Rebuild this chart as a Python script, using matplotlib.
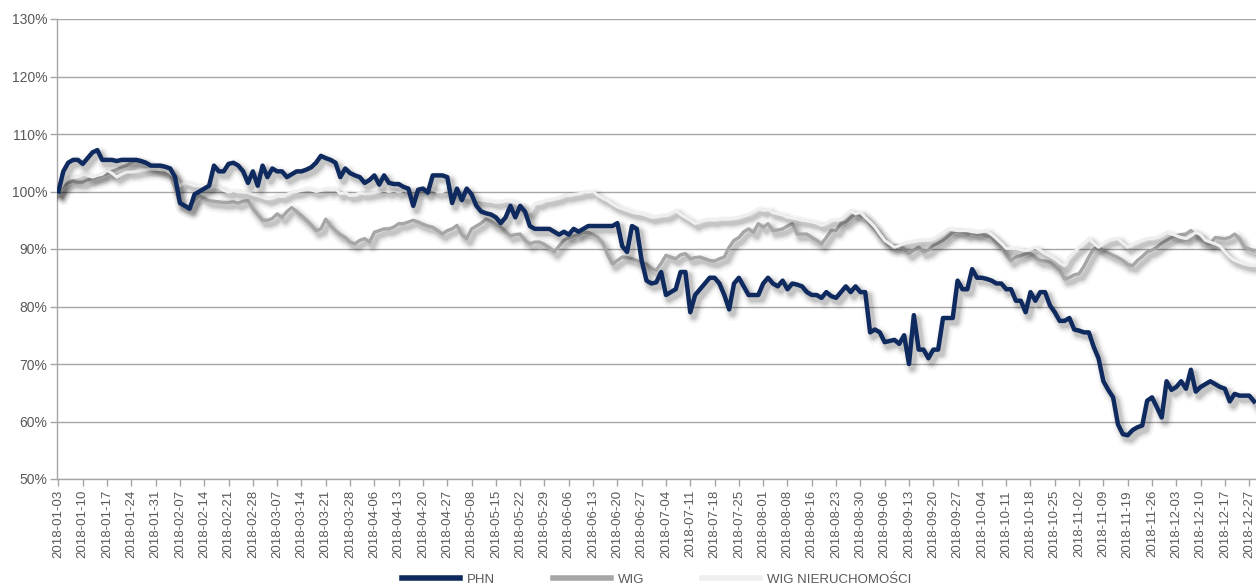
import matplotlib
matplotlib.use("Agg")
import matplotlib.pyplot as plt
import matplotlib.patheffects as pe
from matplotlib.ticker import FuncFormatter

# values in % of 2018-01-03, one per trading day, grouped by week (5 sessions per tick)
phn = [100.0, 103.5, 105.0, 105.5, 105.5,
       104.8, 105.8, 106.8, 107.2, 105.5,
       105.5, 105.5, 105.3, 105.5, 105.5,
       105.5, 105.5, 105.3, 105.0, 104.5,
       104.5, 104.5, 104.3, 104.0, 102.5,
       98.0, 97.5, 97.0, 99.5, 100.0,
       100.5, 101.0, 104.5, 103.5, 103.5,
       104.8, 105.0, 104.5, 103.5, 101.5,
       103.5, 101.0, 104.5, 102.5, 104.0,
       103.5, 103.5, 102.5, 103.0, 103.5,
       103.5, 103.8, 104.2, 105.0, 106.2,
       105.8, 105.5, 105.0, 102.5, 104.0,
       103.2, 102.8, 102.5, 101.5, 102.0,
       102.8, 101.2, 102.8, 101.5, 101.3,
       101.3, 100.8, 100.5, 97.5, 100.3,
       100.5, 99.8, 102.8, 102.8, 102.8,
       102.5, 98.0, 100.5, 98.5, 100.5,
       99.5, 97.5, 96.5, 96.2, 96.0,
       95.5, 94.5, 95.5, 97.5, 95.5,
       97.5, 96.5, 94.0, 93.5, 93.5,
       93.5, 93.5, 93.0, 92.5, 93.0,
       92.5, 93.5, 93.0, 93.5, 94.0,
       94.0, 94.0, 94.0, 94.0, 94.0,
       94.5, 90.5, 89.5, 94.0, 93.5,
       88.0, 84.5, 84.0, 84.2, 86.0,
       82.0, 82.5, 83.0, 86.0, 86.0,
       79.0, 82.0, 83.0, 84.0, 85.0,
       85.0, 84.0, 82.0, 79.5, 84.0,
       85.0, 83.5, 82.0, 82.0, 82.0,
       84.0, 85.0, 84.0, 83.5, 84.5,
       83.0, 84.0, 83.8, 83.5, 82.5,
       82.0, 82.0, 81.5, 82.5, 81.8,
       81.5, 82.5, 83.5, 82.5, 83.5,
       82.5, 82.5, 75.5, 76.0, 75.5,
       73.8, 74.0, 74.2, 73.5, 75.0,
       70.0, 78.5, 72.5, 72.5, 71.0,
       72.5, 72.5, 78.0, 78.0, 78.0,
       84.5, 83.0, 83.0, 86.5, 85.0,
       85.0, 84.8, 84.5, 84.0, 84.0,
       83.0, 83.0, 81.0, 81.0, 79.0,
       82.5, 81.0, 82.5, 82.5, 80.2,
       79.0, 77.5, 77.5, 78.0, 76.0,
       75.8, 75.5, 75.5, 73.0, 71.0,
       67.0, 65.5, 64.2, 59.5, 57.8,
       57.6, 58.5, 59.0, 59.3, 63.6,
       64.2, 62.5, 60.7, 67.0, 65.5,
       66.0, 67.0, 65.7, 69.0, 65.2,
       66.0, 66.5, 67.0, 66.5, 66.0,
       65.7, 63.5, 64.8, 64.5, 64.5,
       64.5, 63.5]

wig = [100.0, 101.0, 101.5, 101.8, 101.6,
       101.6, 102.0, 102.3, 102.5, 102.8,
       103.1, 103.5, 103.8, 104.2, 104.5,
       105.0, 105.4, 105.2, 104.8, 104.6,
       104.3, 103.9, 103.5, 103.1, 100.5,
       97.9, 97.5, 97.3, 98.5, 99.3,
       98.8, 98.4, 98.3, 98.2, 98.1,
       98.1, 98.2, 98.0, 98.3, 98.4,
       97.0, 96.0, 95.0, 95.0, 95.3,
       96.1, 95.5, 96.5, 97.2, 96.5,
       95.8, 95.0, 94.2, 93.2, 93.5,
       95.2, 94.0, 93.2, 92.5, 92.0,
       91.2, 90.9, 91.5, 91.8, 91.2,
       92.9, 93.2, 93.5, 93.5, 93.8,
       94.4, 94.4, 94.7, 95.0, 94.7,
       94.3, 94.0, 93.8, 93.2, 92.6,
       93.2, 93.5, 94.1, 92.5, 91.8,
       93.5, 94.0, 94.5, 95.2, 94.8,
       94.2, 93.8, 93.0, 92.3, 92.5,
       92.6, 91.5, 90.9, 91.2, 91.2,
       90.8, 90.2, 89.5, 90.5, 91.5,
       92.0, 92.3, 92.5, 92.9, 92.9,
       92.5, 92.0, 91.0, 89.0, 87.4,
       88.0, 88.6, 88.5, 88.3, 88.0,
       87.6, 87.4, 86.6, 86.3, 87.5,
       88.9, 88.6, 88.3, 89.0, 89.2,
       88.3, 88.5, 88.6, 88.3, 88.0,
       87.9, 88.3, 88.6, 90.3, 91.5,
       92.0, 93.0, 93.5, 92.9, 94.4,
       93.8, 94.4, 93.2, 93.3, 93.5,
       94.0, 94.4, 92.6, 92.6, 92.6,
       92.0, 91.5, 90.9, 92.0, 93.2,
       93.2, 94.4, 94.7, 95.5, 96.1,
       95.8, 95.5, 94.4, 93.5, 92.3,
       91.5, 90.6, 90.6, 90.6, 90.0,
       89.2, 89.8, 90.3, 89.5, 89.8,
       90.6, 91.0, 91.5, 92.2, 92.9,
       93.2, 93.0, 92.6, 92.8, 92.6,
       92.6, 92.3, 92.0, 91.0, 90.3,
       89.0, 88.0, 88.6, 88.8, 89.2,
       89.2, 88.5, 88.0, 87.9, 87.7,
       87.0, 86.3, 84.8, 85.0, 85.5,
       85.7, 87.0, 88.6, 90.0, 90.3,
       89.7, 89.3, 88.9, 88.5, 88.0,
       87.3, 87.1, 88.0, 88.7, 89.5,
       89.8, 90.3, 91.0, 91.5, 92.0,
       92.3, 92.5, 92.6, 93.2, 92.5,
       91.5, 91.2, 90.9, 92.0, 91.9,
       91.8, 92.0, 92.6, 91.8, 90.3,
       90.0, 89.7]

wig_nier = [100.0, 101.5, 102.5, 102.5, 102.6,
            103.1, 102.8, 102.5, 102.8, 103.0,
            103.7, 103.2, 102.5, 103.0, 103.4,
            103.4, 103.5, 103.7, 103.8, 103.9,
            103.9, 103.8, 103.7, 103.2, 102.5,
            101.0, 101.6, 101.3, 101.0, 101.0,
            101.0, 100.8, 100.9, 100.7, 100.2,
            99.9, 100.1, 99.9, 99.9, 99.8,
            99.5, 99.3, 99.0, 98.7, 98.9,
            99.3, 99.1, 99.5, 99.9, 100.0,
            100.2, 100.5, 100.3, 100.0, 100.2,
            100.5, 100.3, 100.5, 99.6, 99.8,
            99.3, 99.4, 99.8, 99.6, 99.7,
            99.9, 100.0, 100.2, 100.0, 100.2,
            99.9, 100.2, 100.0, 100.2, 100.6,
            100.5, 100.7, 100.4, 99.9, 100.0,
            100.5, 100.0, 99.6, 99.3, 99.0,
            98.9, 98.7, 98.5, 98.4, 98.3,
            98.1, 98.2, 98.4, 98.4, 98.0,
            97.6, 97.0, 96.4, 97.9, 98.0,
            98.4, 98.5, 98.7, 98.9, 99.3,
            99.3, 99.5, 99.6, 99.9, 99.9,
            100.0, 99.3, 98.8, 98.4, 97.8,
            97.3, 97.0, 96.7, 96.4, 96.2,
            96.1, 95.8, 95.5, 95.6, 95.8,
            95.8, 96.2, 96.7, 96.0, 95.5,
            95.0, 94.4, 94.8, 95.0, 95.1,
            95.0, 95.2, 95.2, 95.2, 95.3,
            95.5, 95.8, 96.0, 96.5, 97.0,
            96.7, 96.9, 96.3, 96.1, 95.9,
            95.5, 95.4, 95.2, 95.0, 94.9,
            94.7, 94.5, 94.1, 94.5, 95.0,
            95.0, 95.2, 96.0, 96.7, 96.1,
            96.4, 95.5, 94.7, 93.8, 92.6,
            91.5, 90.9, 90.3, 90.6, 91.0,
            91.2, 91.3, 91.5, 91.5, 91.5,
            91.8, 92.3, 92.8, 93.5, 93.3,
            93.2, 93.2, 93.2, 93.0, 92.9,
            93.0, 93.2, 92.5, 91.8, 91.0,
            90.1, 90.1, 90.1, 89.9, 89.7,
            90.0, 90.3, 89.8, 89.2, 88.8,
            88.3, 87.6, 87.1, 88.6, 89.5,
            90.3, 91.0, 91.8, 91.0, 90.3,
            91.0, 91.5, 91.7, 91.8, 91.0,
            90.3, 90.8, 91.2, 91.5, 91.8,
            91.8, 92.0, 92.4, 92.9, 92.6,
            92.3, 92.0, 91.8, 92.3, 92.9,
            92.5, 91.5, 91.2, 90.9, 90.5,
            89.5, 88.6, 88.0, 87.7, 87.4,
            87.2, 87.1]

tick_labels = ["2018-01-03", "2018-01-10", "2018-01-17", "2018-01-24", "2018-01-31",
               "2018-02-07", "2018-02-14", "2018-02-21", "2018-02-28", "2018-03-07",
               "2018-03-14", "2018-03-21", "2018-03-28", "2018-04-06", "2018-04-13",
               "2018-04-20", "2018-04-27", "2018-05-08", "2018-05-15", "2018-05-22",
               "2018-05-29", "2018-06-06", "2018-06-13", "2018-06-20", "2018-06-27",
               "2018-07-04", "2018-07-11", "2018-07-18", "2018-07-25", "2018-08-01",
               "2018-08-08", "2018-08-16", "2018-08-23", "2018-08-30", "2018-09-06",
               "2018-09-13", "2018-09-20", "2018-09-27", "2018-10-04", "2018-10-11",
               "2018-10-18", "2018-10-25", "2018-11-02", "2018-11-09", "2018-11-19",
               "2018-11-26", "2018-12-03", "2018-12-10", "2018-12-17", "2018-12-27"]

plt.rcParams['font.family'] = ['Liberation Sans Narrow', 'Liberation Sans', 'DejaVu Sans']
txt = '#595959'


def shadow(lw):
    """ soft drop shadow made of a few wide, faint strokes """
    fx = []
    for extra, a in [(8, 0.035), (5, 0.05), (3, 0.07), (1, 0.09)]:
        fx.append(pe.SimpleLineShadow(offset=(2.5, -3), shadow_color='k',
                                      alpha=a, linewidth=lw + extra))
    fx.append(pe.Normal())
    return fx


fig = plt.figure(figsize=(12.56, 5.87), dpi=100)
ax = fig.add_axes([57/1256, 1 - 479/587, 1 - 57/1256, (479 - 19)/587])

x = list(range(len(phn)))
ax.plot(x, wig, color='#a6a6a6', lw=2.4, label='WIG', zorder=3,
        path_effects=shadow(2.4), solid_joinstyle='round')
ax.plot(x, wig_nier, color='#efefef', lw=2.2, label='WIG NIERUCHOMOŚCI', zorder=4,
        path_effects=shadow(2.2), solid_joinstyle='round')
ax.plot(x, phn, color='#0f2a5f', lw=3.2, label='PHN', zorder=5,
        path_effects=shadow(3.2), solid_joinstyle='round')

ax.set_xlim(-0.3, 246.4)
ax.set_ylim(50, 130)
ax.set_yticks(range(50, 131, 10))
ax.yaxis.set_major_formatter(FuncFormatter(lambda v, p: '%d%%' % v))
ax.set_xticks(range(0, 5*len(tick_labels), 5))
ax.set_xticklabels(tick_labels, rotation=90)

ax.grid(axis='y', color='#a6a6a6', lw=1)
ax.set_axisbelow(True)
for s in ['top', 'right']:
    ax.spines[s].set_visible(False)
for s in ['left', 'bottom']:
    ax.spines[s].set_color('#a6a6a6')
    ax.spines[s].set_linewidth(1)
ax.tick_params(axis='both', colors='#a6a6a6', length=5, width=1, labelcolor=txt)
ax.tick_params(axis='y', labelsize=10, pad=2)
ax.tick_params(axis='x', labelsize=9.5, pad=3)

handles, labels = ax.get_legend_handles_labels()
order = [2, 0, 1]
leg = fig.legend([handles[i] for i in order], [labels[i] for i in order],
                 loc='center', bbox_to_anchor=(0.523, 0.012), ncol=3, frameon=False,
                 fontsize=9.5, handlelength=4.4, handletextpad=0.5, columnspacing=4.4)
for t in leg.get_texts():
    t.set_color(txt)
for h in leg.legend_handles:
    h.set_path_effects([])
    h.set_linewidth(4)

fig.savefig('out.png', dpi=100)
